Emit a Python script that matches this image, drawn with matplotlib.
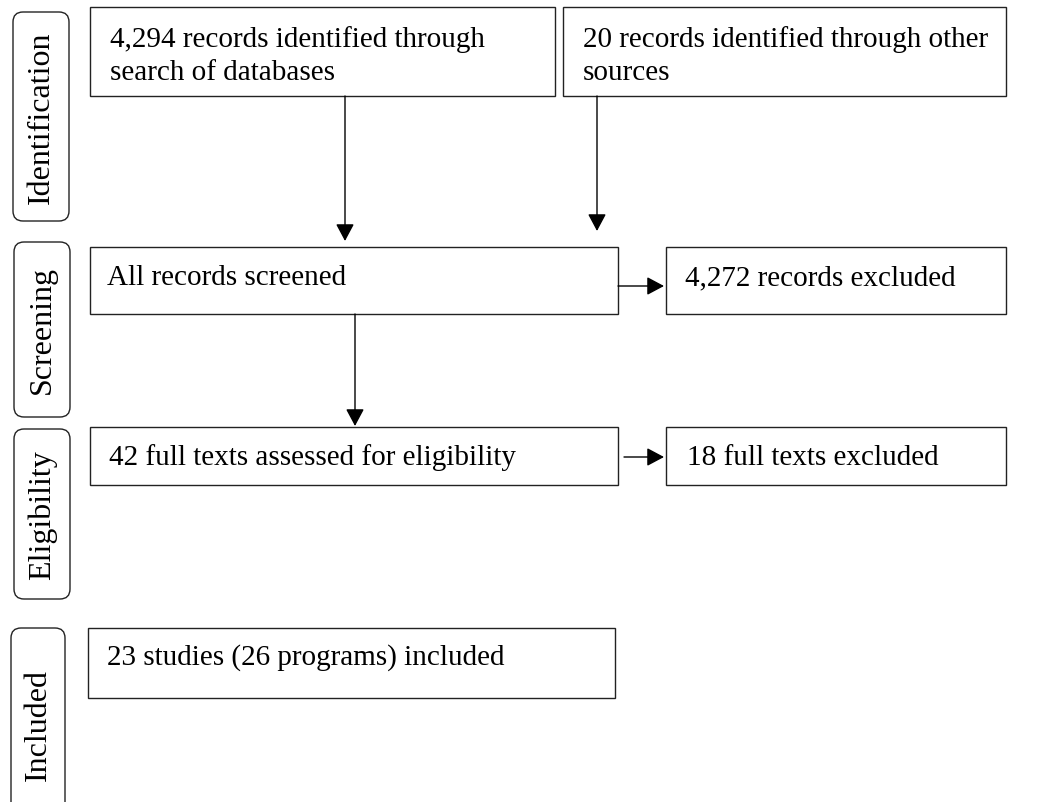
import matplotlib.pyplot as plt
from matplotlib.patches import Rectangle, FancyBboxPatch, FancyArrowPatch

plt.rcParams['font.family'] = ['Liberation Serif', 'DejaVu Serif']

# stage labels down the left side
stages = ['Identification', 'Screening', 'Eligibility', 'Included']

# text of each box, one list entry per line
box_texts = [
    ['4,294 records identified through', 'search of databases'],
    ['20 records identified through other', 'sources'],
    ['All records screened'],
    ['4,272 records excluded'],
    ['42 full texts assessed for eligibility'],
    ['18 full texts excluded'],
    ['23 studies (26 programs) included'],
]

# layout in pixels (x0, y0, x1, y1), y goes down
stage_boxes = [(13, 13, 69, 222), (14, 243, 70, 418), (14, 430, 70, 600), (11, 629, 65, 820)]
boxes = [(90, 8, 555, 97), (563, 8, 1006, 97),
         (90, 248, 618, 315), (666, 248, 1006, 315),
         (90, 428, 618, 486), (666, 428, 1006, 486),
         (88, 629, 615, 699)]
text_pos = [(110, 47), (583, 47), (107, 285), (685, 285), (109, 465), (687, 465), (107, 665)]
line_gap = 33

arrows = [((345, 97), (345, 242)), ((597, 97), (597, 232)),
          ((618, 287), (664, 287)), ((355, 315), (355, 427)),
          ((624, 458), (664, 458))]

fig = plt.figure(figsize=(10.61, 8.03), dpi=100)
ax = fig.add_axes([0, 0, 1, 1])
ax.set_xlim(0, 1061)
ax.set_ylim(803, 0)
ax.axis('off')

edge = '#222222'

for (x0, y0, x1, y1), label in zip(stage_boxes, stages):
    ax.add_patch(FancyBboxPatch((x0, y0), x1 - x0, y1 - y0,
                                boxstyle='round,pad=0,rounding_size=10',
                                fc='white', ec=edge, lw=1.0))
    cy = (y0 + min(y1, 803 + 0)) / 2 if y1 < 803 else 725
    ax.text((x0 + x1) / 2, cy, label, rotation=90,
            ha='center', va='center', fontsize=23)

for (x0, y0, x1, y1), lines, (tx, ty) in zip(boxes, box_texts, text_pos):
    ax.add_patch(Rectangle((x0, y0), x1 - x0, y1 - y0, fc='white', ec=edge, lw=1.0))
    for i, line in enumerate(lines):
        ax.text(tx, ty + i * line_gap, line, ha='left', va='baseline', fontsize=21)

for start, end in arrows:
    ax.add_patch(FancyArrowPatch(start, end,
                                 arrowstyle='-|>,head_length=1.05,head_width=0.56',
                                 mutation_scale=10, color='black', lw=1.0,
                                 shrinkA=0, shrinkB=0))

fig.savefig('out.png', dpi=100)
